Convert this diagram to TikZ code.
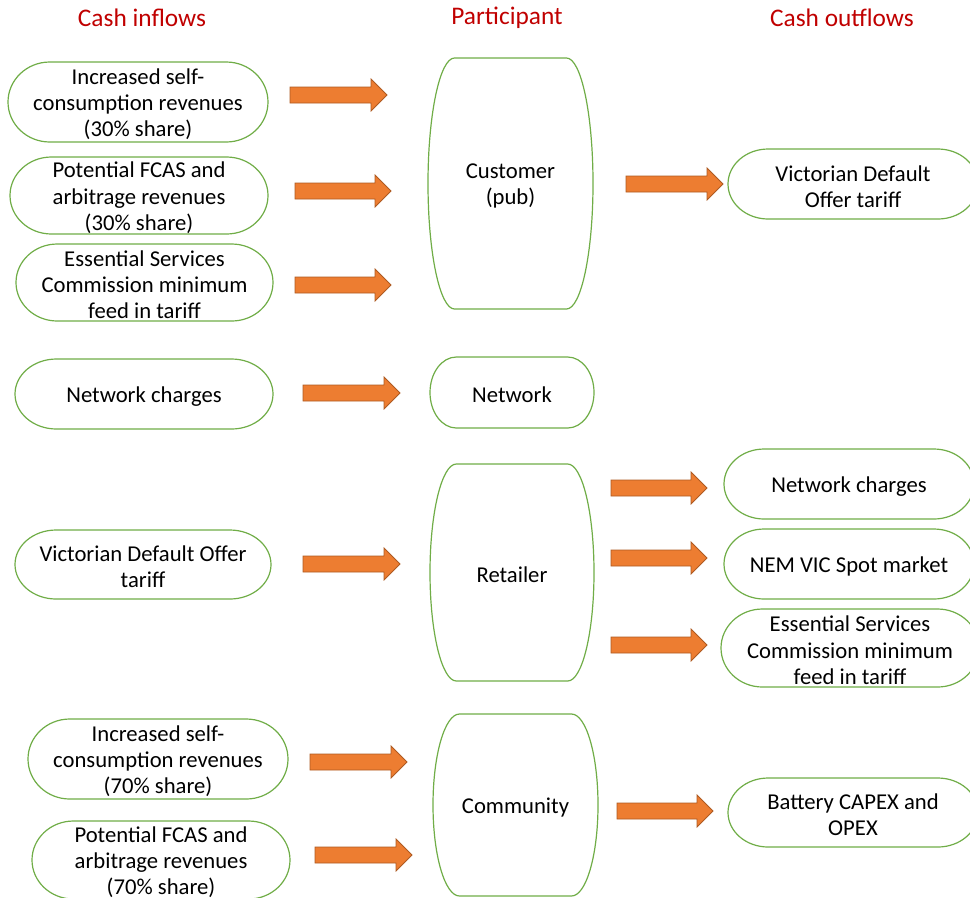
\documentclass[tikz,border=0pt]{standalone}
\usepackage{fontspec}
\setmainfont{Carlito}
\usetikzlibrary{calc}

\definecolor{boxgreen}{HTML}{70AD47}
\definecolor{flowfill}{HTML}{ED7D31}
\definecolor{flowline}{HTML}{AE5A21}
\definecolor{headred}{HTML}{C00000}

\tikzset{
  termline/.style={draw=boxgreen, line width=0.9pt, fill=white},
  termtext/.style={align=center, inner sep=0pt, yshift=-1.8pt, font=\fontsize{17}{19.7}\selectfont, text=black},
  headtext/.style={font=\fontsize{19}{22}\selectfont, text=headred, inner sep=0pt},
  flowarrow/.style={fill=flowfill, draw=flowline, line width=0.6pt, line join=miter},
}

% Terminator outline from (x0,y0) to (x1,y1) with a named text node at its centre
\newcommand\termbox[6]{%
  \pgfmathsetmacro\tr{0.1606*(#4-#2)}%
  \pgfmathsetmacro\trx{0.75*\tr}%
  \pgfmathsetmacro\try{0.375*(#5-#3)}%
  \draw[termline] (#2+\tr,#3) -- (#4-\tr,#3)
    arc[start angle=90, end angle=-90, x radius=\trx pt, y radius=\try pt]
    -- (#2+\tr,#5)
    arc[start angle=270, end angle=90, x radius=\trx pt, y radius=\try pt]
    -- cycle;
  \node[termtext] (#1) at ({(#2+#4)/2},{(#3+#5)/2}) {#6};
}

% Block arrow from a tail coordinate to a tip coordinate
\newcommand\blockarrow[2]{%
  \draw[flowarrow] ($(#1)+(0,-8)$) -- ($(#2)+(-16,-8)$) -- ($(#2)+(-16,-16)$)
    -- (#2) -- ($(#2)+(-16,16)$) -- ($(#2)+(-16,8)$) -- ($(#1)+(0,8)$) -- cycle;
}

\begin{document}
\begin{tikzpicture}[x=0.75pt, y=-0.75pt]
\useasboundingbox (0,0) rectangle (970,897);
\clip (0,0) rectangle (970,897);

% column headings
\node[headtext] (hin)  at (142,18) {Cash inflows};
\node[headtext] (hpar) at (507,18) {Participant};
\node[headtext] (hout) at (842,18) {Cash outflows};

% cash inflows
\termbox{in1}{8}{62}{268}{142}{Increased self-\\consumption revenues\\(30\% share)}
\termbox{in2}{10}{157}{268}{234}{Potential FCAS and\\arbitrage revenues\\(30\% share)}
\termbox{in3}{16}{244}{273}{321}{Essential Services\\Commission minimum\\feed in tariff}
\termbox{in4}{15}{359}{273}{429}{Network charges}
\termbox{in5}{15}{530}{271}{599}{Victorian Default Offer\\tariff}
\termbox{in6}{28}{719}{288}{799}{Increased self-\\consumption revenues\\(70\% share)}
\termbox{in7}{32}{821}{290}{899}{Potential FCAS and\\arbitrage revenues\\(70\% share)}

% participants
\termbox{cust}{428}{58}{593}{309}{Customer\\(pub)}
\termbox{netw}{430}{357}{594}{428}{Network}
\termbox{retl}{430}{464}{594}{681}{Retailer}
\termbox{comm}{433}{714}{598}{896}{Community}

% cash outflows
\termbox{out1}{728}{149}{978}{219}{Victorian Default\\Offer tariff}
\termbox{out2}{724}{449}{974}{519}{Network charges}
\termbox{out3}{724}{529}{974}{599}{NEM VIC Spot market}
\termbox{out4}{721}{609}{979}{687}{Essential Services\\Commission minimum\\feed in tariff}
\termbox{out5}{728}{778}{978}{847}{Battery CAPEX and\\OPEX}

% arrow tails and tips
\coordinate (t1)  at (290,95);   \coordinate (p1)  at (387,95);
\coordinate (t2)  at (295,191);  \coordinate (p2)  at (391,191);
\coordinate (t3)  at (295,285);  \coordinate (p3)  at (391,285);
\coordinate (t4)  at (303,393);  \coordinate (p4)  at (400,393);
\coordinate (t5)  at (303,564);  \coordinate (p5)  at (400,564);
\coordinate (t6)  at (310,762);  \coordinate (p6)  at (407,762);
\coordinate (t7)  at (315,855);  \coordinate (p7)  at (412,855);
\coordinate (t8)  at (626,184);  \coordinate (p8)  at (723,184);
\coordinate (t9)  at (611,488);  \coordinate (p9)  at (707,488);
\coordinate (t10) at (611,558);  \coordinate (p10) at (707,558);
\coordinate (t11) at (611,645);  \coordinate (p11) at (707,645);
\coordinate (t12) at (617,811);  \coordinate (p12) at (713,811);

\blockarrow{t1}{p1}
\blockarrow{t2}{p2}
\blockarrow{t3}{p3}
\blockarrow{t4}{p4}
\blockarrow{t5}{p5}
\blockarrow{t6}{p6}
\blockarrow{t7}{p7}
\blockarrow{t8}{p8}
\blockarrow{t9}{p9}
\blockarrow{t10}{p10}
\blockarrow{t11}{p11}
\blockarrow{t12}{p12}
\end{tikzpicture}
\end{document}
